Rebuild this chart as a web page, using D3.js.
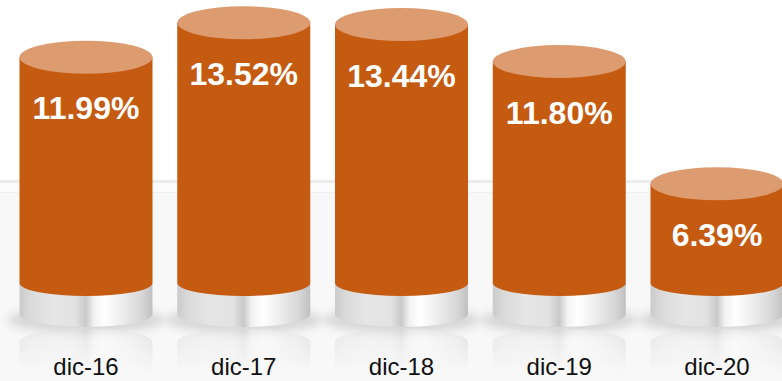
<!DOCTYPE html>
<html>
<head>
<meta charset="utf-8">
<script src="https://cdn.jsdelivr.net/npm/d3@7"></script>
<style>
  html, body { margin: 0; padding: 0; background: #fff; overflow: hidden; }
  svg { display: block; }
</style>
</head>
<body>
<svg id="chart" width="782" height="381"></svg>
<script>
// Year-end rates, December of each year
const categories = ["dic-16", "dic-17", "dic-18", "dic-19", "dic-20"];
const values = [11.99, 13.52, 13.44, 11.80, 6.39];

const W = 782, H = 381;
const svg = d3.select("#chart");
const defs = svg.append("defs");

// Layout constants
const floorY = 283;        // top of the silver pedestals
const pedestalH = 31;      // height of pedestal side
const rx = 66.5;           // cylinder half-width
const ryTop = 16.5;        // top ellipse vertical radius
const ryBot = 13;          // lower ellipse vertical radius

const x = d3.scalePoint().domain(categories).range([86, 717]);
const y = d3.scaleLinear().domain([0, 14.5]).range([328, 0.6]);
const fmt = v => d3.format(".2f")(v) + "%";

// Pedestal metallic gradient
const metal = defs.append("linearGradient").attr("id", "metal")
  .attr("x1", 0).attr("x2", 1).attr("y1", 0).attr("y2", 0);
[[0, "#cbcbcb"], [0.08, "#dadada"], [0.25, "#e6e6e6"], [0.42, "#e2e2e2"],
 [0.5, "#c9c9c9"], [0.56, "#f2f2f2"], [0.64, "#ffffff"], [0.78, "#ececec"],
 [0.92, "#d6d6d6"], [1, "#c0c0c0"]]
  .forEach(([o, c]) => metal.append("stop").attr("offset", o).attr("stop-color", c));

// Fade for the floor reflection
const fade = defs.append("linearGradient").attr("id", "fade")
  .attr("x1", 0).attr("x2", 0).attr("y1", 0).attr("y2", 1);
fade.append("stop").attr("offset", 0).attr("stop-color", "#fff").attr("stop-opacity", 0.4);
fade.append("stop").attr("offset", 1).attr("stop-color", "#fff").attr("stop-opacity", 0);
defs.append("mask").attr("id", "fadeMask").attr("maskContentUnits", "userSpaceOnUse")
  .append("rect").attr("x", 0).attr("y", floorY + pedestalH + ryBot)
  .attr("width", W).attr("height", 45).attr("fill", "url(#fade)");

const blur = defs.append("filter").attr("id", "soft")
  .attr("x", "-30%").attr("y", "-100%").attr("width", "160%").attr("height", "300%");
blur.append("feGaussianBlur").attr("stdDeviation", 5);

// Background: back wall and floor
svg.append("rect").attr("width", W).attr("height", H).attr("fill", "#ffffff");
svg.append("rect").attr("x", 0).attr("y", 180).attr("width", W).attr("height", H - 180)
  .attr("fill", "#f8f8f8");
svg.append("rect").attr("x", 0).attr("y", 180).attr("width", W).attr("height", 3)
  .attr("fill", "#ececec");
svg.append("rect").attr("x", 0).attr("y", 183).attr("width", W).attr("height", 9)
  .attr("fill", "#fcfcfc");
svg.append("rect").attr("x", 0).attr("y", 192).attr("width", W).attr("height", 1)
  .attr("fill", "#f0f0f0");

const pedBot = floorY + pedestalH;
const pedestalPath = cx =>
  `M${cx - rx},${floorY} L${cx - rx},${pedBot} ` +
  `A${rx},${ryBot} 0 0 0 ${cx + rx},${pedBot} L${cx + rx},${floorY} Z`;

const bars = svg.selectAll("g.bar").data(categories.map((c, i) => ({ c, v: values[i] })))
  .join("g").attr("class", "bar");

// Soft shadow under each pedestal
bars.append("ellipse")
  .attr("cx", d => x(d.c)).attr("cy", pedBot + 6)
  .attr("rx", rx + 12).attr("ry", 13)
  .attr("fill", "#c8c8c8").attr("opacity", 0.7)
  .attr("filter", "url(#soft)");

// Floor reflection of the pedestal
bars.append("g").attr("mask", "url(#fadeMask)")
  .append("path")
  .attr("d", d => pedestalPath(x(d.c)))
  .attr("fill", "url(#metal)")
  .attr("transform", `translate(0, ${2 * (pedBot + ryBot) + 2}) scale(1,-1)`);

// Silver pedestal
bars.append("path")
  .attr("d", d => pedestalPath(x(d.c)))
  .attr("fill", "url(#metal)");

// Orange cylinder body
bars.append("path")
  .attr("d", d => {
    const cx = x(d.c), yt = y(d.v);
    return `M${cx - rx},${yt} L${cx - rx},${floorY} ` +
      `A${rx},${ryBot} 0 0 0 ${cx + rx},${floorY} L${cx + rx},${yt} Z`;
  })
  .attr("fill", "#c55a11");

// Cylinder top
bars.append("ellipse")
  .attr("cx", d => x(d.c)).attr("cy", d => y(d.v))
  .attr("rx", rx).attr("ry", ryTop)
  .attr("fill", "#dd9b70");

// Value labels
bars.append("text")
  .attr("x", d => x(d.c)).attr("y", d => y(d.v) + 62)
  .attr("text-anchor", "middle")
  .attr("font-family", "Arial, 'Liberation Sans', sans-serif")
  .attr("font-weight", "bold").attr("font-size", 32)
  .attr("fill", "#ffffff")
  .text(d => fmt(d.v));

// Category labels
bars.append("text")
  .attr("x", d => x(d.c)).attr("y", 375)
  .attr("text-anchor", "middle")
  .attr("font-family", "Arial, 'Liberation Sans', sans-serif")
  .attr("font-size", 24)
  .attr("fill", "#111111")
  .text(d => d.c);
</script>
</body>
</html>
